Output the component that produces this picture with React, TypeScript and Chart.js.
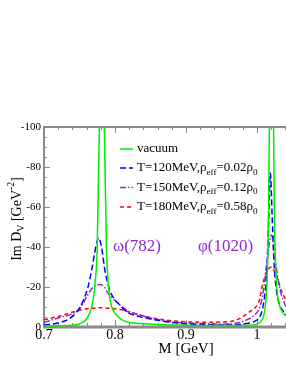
import React, { useEffect, useRef } from "react";
import { Chart, registerables } from "chart.js";

Chart.register(...registerables);

// ---------- data (M in GeV, Im D_V in GeV^-2) ----------
const vacuumM = [0.70, 0.72, 0.74, 0.75, 0.755, 0.76, 0.765, 0.769, 0.772, 0.775, 0.778, 0.7815, 0.785, 0.788, 0.791, 0.794, 0.798, 0.805, 0.81, 0.82, 0.835, 0.86, 0.89, 0.93, 0.97, 0.995, 1.003, 1.008, 1.011, 1.013, 1.015, 1.0165, 1.018, 1.0205, 1.023, 1.0245, 1.026, 1.028, 1.031, 1.035, 1.041];
const vacuumIm = [-0.5, -0.6, -0.9, -1.5, -2.5, -4, -7.5, -13, -22, -40, -100, -150, -100, -40, -20, -12, -8, -5, -3.6, -2.3, -1.8, -1.3, -1.0, -0.7, -0.7, -1.0, -2, -4, -8, -15, -30, -60, -120, -230, -120, -60, -35, -20, -12, -8, -5.5];

const t120M = [0.70, 0.72, 0.735, 0.746, 0.755, 0.762, 0.768, 0.773, 0.777, 0.781, 0.786, 0.792, 0.798, 0.807, 0.816, 0.835, 0.863, 0.89, 0.93, 0.96, 0.975, 0.985, 0.993, 1.0, 1.004, 1.009, 1.0136, 1.0165, 1.019, 1.0215, 1.0245, 1.0277, 1.032, 1.037, 1.041];
const t120Im = [-1.0, -2.0, -4.0, -7.5, -13, -20, -30, -40, -44.6, -40, -28, -19, -14.5, -11, -7.7, -5.2, -3.2, -1.9, -1.2, -1.0, -1.3, -1.7, -2.3, -3.5, -5, -11, -26, -52, -77, -55, -30, -18, -11, -8, -6];

const t150M = [0.70, 0.72, 0.741, 0.75, 0.755, 0.76, 0.767, 0.774, 0.779, 0.785, 0.79, 0.798, 0.807, 0.816, 0.835, 0.863, 0.89, 0.93, 0.96, 0.975, 0.985, 0.995, 1.0042, 1.009, 1.014, 1.0205, 1.026, 1.0324, 1.037, 1.041];
const t150Im = [-2.2, -4.5, -6.8, -9, -11.8, -15, -19, -21, -21.2, -20, -17, -14, -11, -8.5, -6, -3.5, -2.3, -1.6, -1.5, -2.2, -3.5, -5.5, -10, -17.7, -32, -46, -33, -19, -13.5, -10];

const t180M = [0.70, 0.7225, 0.746, 0.765, 0.78, 0.79, 0.807, 0.82, 0.835, 0.863, 0.89, 0.93, 0.962, 0.976, 0.99, 0.997, 1.004, 1.0066, 1.012, 1.0205, 1.028, 1.0347, 1.041];
const t180Im = [-3.6, -5.5, -8, -9.3, -9.6, -9.4, -8.7, -7.5, -6, -3.9, -2.8, -2.4, -2.7, -4.3, -7.7, -9.5, -14, -19, -26, -30, -25, -18, -13.5];

const xMajorTicks = [0.7, 0.8, 0.9, 1.0];
const xTickLabels = ["0.7", "0.8", "0.9", "1"];
const yMajorTicks = [-100, -80, -60, -40, -20, 0];
const yTickLabels = ["-100", "-80", "-60", "-40", "-20", "0"];

const FONT = "'Liberation Serif', 'Times New Roman', serif";
const VIOLET = "rgb(148,40,211)";

type Part = { t: string; s?: "sub" | "sup" };

const legendParts: Part[][] = [
  [{ t: "vacuum" }],
  [{ t: "T=120MeV,ρ" }, { t: "eff", s: "sub" }, { t: "=0.02ρ" }, { t: "0", s: "sub" }],
  [{ t: "T=150MeV,ρ" }, { t: "eff", s: "sub" }, { t: "=0.12ρ" }, { t: "0", s: "sub" }],
  [{ t: "T=180MeV,ρ" }, { t: "eff", s: "sub" }, { t: "=0.58ρ" }, { t: "0", s: "sub" }],
];

function richWidth(ctx: CanvasRenderingContext2D, parts: Part[], size: number) {
  let w = 0;
  for (const p of parts) {
    ctx.font = `${p.s ? size * 0.7 : size}px ${FONT}`;
    w += ctx.measureText(p.t).width;
  }
  return w;
}

function drawRich(ctx: CanvasRenderingContext2D, parts: Part[], x: number, y: number, size: number) {
  let cx = x;
  for (const p of parts) {
    const fs = p.s ? size * 0.7 : size;
    ctx.font = `${fs}px ${FONT}`;
    const dy = p.s === "sub" ? size * 0.32 : p.s === "sup" ? -size * 0.42 : 0;
    ctx.fillText(p.t, cx, y + dy);
    cx += ctx.measureText(p.t).width;
  }
}

function pts(xs: number[], ys: number[]) {
  return xs.map((x, i) => ({ x, y: ys[i] }));
}

const decorPlugin = {
  id: "decor",
  beforeDatasetsDraw(chart: any) {
    const { ctx, chartArea } = chart;
    const xs = chart.scales.x;
    const ys = chart.scales.y;
    const { left, right, top, bottom } = chartArea;
    ctx.save();
    ctx.strokeStyle = "#8a8a8a";
    ctx.lineWidth = 2;
    ctx.beginPath();
    ctx.moveTo(left, bottom + 1);
    ctx.lineTo(left, top);
    ctx.lineTo(right + 2, top);
    ctx.stroke();
    ctx.lineWidth = 3;
    ctx.beginPath();
    ctx.moveTo(left - 1, bottom);
    ctx.lineTo(right + 2, bottom);
    ctx.stroke();
    ctx.lineWidth = 1;
    for (let i = 0; i <= 20; i++) {
      const v = 0.7 + i * 0.02;
      if (v > xs.max + 1e-9) break;
      const px = Math.round(xs.getPixelForValue(v)) + 0.5;
      const major = i % 5 === 0;
      const len = major ? 6 : 3;
      ctx.beginPath();
      ctx.moveTo(px, bottom - 1);
      ctx.lineTo(px, bottom - 1 - len);
      ctx.moveTo(px, top);
      ctx.lineTo(px, top + len);
      ctx.stroke();
    }
    for (let v = -100; v <= 0; v += 5) {
      const py = Math.round(ys.getPixelForValue(v)) + 0.5;
      const major = v % 20 === 0;
      const len = major ? 6 : 3;
      ctx.beginPath();
      ctx.moveTo(left, py);
      ctx.lineTo(left + len, py);
      ctx.stroke();
    }
    ctx.restore();
  },
  afterDraw(chart: any) {
    const { ctx, chartArea } = chart;
    const xs = chart.scales.x;
    const ys = chart.scales.y;
    const { left, bottom } = chartArea;
    ctx.save();
    ctx.fillStyle = "#000";
    ctx.font = `11px ${FONT}`;
    ctx.textAlign = "right";
    ctx.textBaseline = "middle";
    yMajorTicks.forEach((v, i) => {
      ctx.fillText(yTickLabels[i], left - 3, ys.getPixelForValue(v));
    });
    ctx.font = `14px ${FONT}`;
    ctx.textAlign = "center";
    ctx.textBaseline = "top";
    xMajorTicks.forEach((v, i) => {
      ctx.fillText(xTickLabels[i], xs.getPixelForValue(v), bottom + 1);
    });
    ctx.font = `15px ${FONT}`;
    ctx.textBaseline = "middle";
    ctx.fillText("M [GeV]", 186, 349);
    const yParts: Part[] = [{ t: "Im D" }, { t: "V", s: "sub" }, { t: " [GeV" }, { t: "-2", s: "sup" }, { t: "]" }];
    ctx.save();
    ctx.translate(17, 219);
    ctx.rotate(-Math.PI / 2);
    ctx.textAlign = "left";
    ctx.textBaseline = "middle";
    const w = richWidth(ctx, yParts, 14);
    drawRich(ctx, yParts, -w / 2, 0, 14);
    ctx.restore();
    ctx.fillStyle = VIOLET;
    ctx.font = `17px ${FONT}`;
    ctx.textAlign = "left";
    ctx.textBaseline = "middle";
    ctx.fillText("ω(782)", 113, 247);
    ctx.fillText("φ(1020)", 198, 247);
    const rowsY = [149, 168, 187.5, 207];
    chart.data.datasets.forEach((ds: any, i: number) => {
      const y = rowsY[i];
      ctx.save();
      ctx.strokeStyle = ds.borderColor;
      ctx.lineWidth = ds.borderWidth;
      ctx.setLineDash(ds.borderDash || []);
      ctx.beginPath();
      ctx.moveTo(120, y);
      ctx.lineTo(133, y);
      ctx.stroke();
      ctx.restore();
      ctx.fillStyle = "#000";
      ctx.textAlign = "left";
      ctx.textBaseline = "middle";
      drawRich(ctx, legendParts[i], 137, y, 13);
    });
    ctx.restore();
  },
};

export default function App() {
  const ref = useRef<HTMLCanvasElement | null>(null);
  useEffect(() => {
    document.body.style.margin = "0";
    const canvas = ref.current!;
    const chart = new Chart(canvas, {
      type: "line",
      data: {
        datasets: [
          { label: "vacuum", data: pts(vacuumM, vacuumIm), borderColor: "#00ee00", borderWidth: 1.5, borderDash: [] },
          { label: "T=120", data: pts(t120M, t120Im), borderColor: "#0000ff", borderWidth: 1.5, borderDash: [6, 3] },
          { label: "T=150", data: pts(t150M, t150Im), borderColor: VIOLET, borderWidth: 1.5, borderDash: [6, 2, 1.5, 2] },
          { label: "T=180", data: pts(t180M, t180Im), borderColor: "#ff0000", borderWidth: 1.5, borderDash: [4, 3] },
        ] as any,
      },
      options: {
        responsive: false,
        animation: false,
        layout: { padding: { left: 44, top: 127, right: 0, bottom: 44 } },
        elements: { point: { radius: 0 }, line: { cubicInterpolationMode: "monotone", fill: false } },
        scales: {
          x: { type: "linear", min: 0.7, max: 1.041, display: false },
          y: { type: "linear", min: -100, max: 0, reverse: true, display: false },
        },
        plugins: { legend: { display: false }, tooltip: { enabled: false } },
      } as any,
      plugins: [decorPlugin],
    });
    return () => chart.destroy();
  }, []);
  return (
    <div style={{ position: "absolute", left: 0, top: 0, width: 286, height: 371, background: "#fff" }}>
      <canvas ref={ref} width={286} height={371} style={{ width: 286, height: 371, display: "block" }} />
    </div>
  );
}
